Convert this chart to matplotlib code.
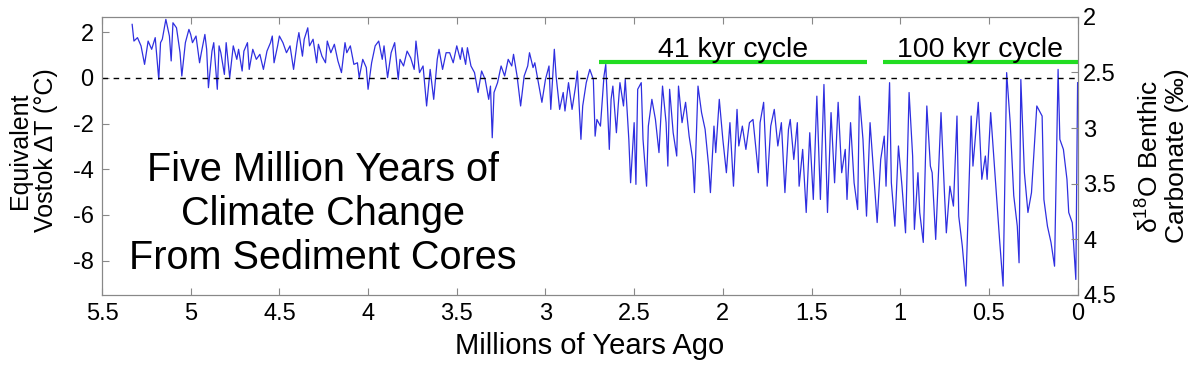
import numpy as np
import matplotlib.pyplot as plt

plt.rcParams['font.family'] = ['Liberation Sans', 'DejaVu Sans']
plt.rcParams['mathtext.fontset'] = 'custom'
plt.rcParams['mathtext.rm'] = 'Liberation Sans'
plt.rcParams['mathtext.it'] = 'Liberation Sans:italic'

# --- data (age in Myr, equivalent Vostok dT in degC) ---
age_pliocene_a = [5.33, 5.32, 5.30, 5.28, 5.26, 5.24, 5.22, 5.20, 5.18, 5.17,
                  5.16, 5.14, 5.12, 5.11, 5.10, 5.08, 5.06, 5.05, 5.03, 5.01,
                  5.00, 4.99, 4.97, 4.95, 4.94, 4.92, 4.91, 4.90, 4.88, 4.87,
                  4.85, 4.84, 4.83, 4.81, 4.80, 4.78, 4.76, 4.74, 4.73, 4.71,
                  4.70, 4.68, 4.67, 4.65, 4.63, 4.61, 4.59, 4.57, 4.55, 4.54,
                  4.53, 4.51, 4.50, 4.48, 4.46]
temp_pliocene_a = [2.34, 1.61, 1.76, 1.40, 0.59, 1.61, 1.25, 1.76, -0.07, 1.54,
                   1.69, 2.56, 1.83, 0.74, 2.41, 2.19, 1.10, 0.08, 1.54, 2.12,
                   1.90, 1.54, 1.83, 0.66, 1.10, 1.90, 1.25, -0.43, 1.17, 1.54,
                   -0.50, 1.40, 1.10, 0.15, 1.54, 0.01, 1.40, 0.81, 1.25, 0.30,
                   1.17, 1.54, 0.37, 1.25, 0.81, 1.03, 0.37, 1.17, 1.54, 1.83,
                   0.66, 1.40, 1.83, 1.54, 1.10]

age_pliocene_b = [4.44, 4.42, 4.40, 4.39, 4.37, 4.36, 4.34, 4.33, 4.31, 4.29,
                  4.28, 4.26, 4.24, 4.23, 4.21, 4.19, 4.17, 4.15, 4.13, 4.12,
                  4.10, 4.08, 4.06, 4.05, 4.03, 4.01, 4.00, 3.98, 3.96, 3.94,
                  3.92, 3.91, 3.89, 3.87, 3.85, 3.83, 3.82, 3.80, 3.78, 3.76,
                  3.74, 3.73, 3.71, 3.69, 3.67, 3.65, 3.63, 3.61, 3.60, 3.58,
                  3.56]
temp_pliocene_b = [1.40, 0.37, 1.54, 1.98, 0.95, 1.69, 2.19, 1.40, 1.69, 0.66,
                   1.47, 0.95, 0.66, 1.61, 1.10, 1.47, 0.74, 0.23, 1.54, 1.10,
                   1.40, 0.59, 0.66, 0.01, 0.81, 0.45, -0.50, 0.66, 1.40, 1.61,
                   0.81, 1.40, 0.01, 1.10, 1.54, -0.07, 0.81, 0.52, 1.17, 0.88,
                   0.37, 1.61, 0.23, 0.52, -1.23, 0.37, -0.94, 0.81, 1.25, 0.37,
                   1.10]

age_pliocene_c = [3.54, 3.52, 3.50, 3.48, 3.47, 3.45, 3.44, 3.42, 3.40, 3.38,
                  3.36, 3.34, 3.32, 3.31, 3.30, 3.29, 3.27, 3.25, 3.23, 3.21,
                  3.19, 3.18, 3.16, 3.14, 3.12, 3.10, 3.09, 3.07, 3.06, 3.03,
                  3.02, 3.00, 2.98, 2.97, 2.95, 2.94, 2.92, 2.90, 2.89, 2.87,
                  2.85, 2.83, 2.82, 2.80, 2.79, 2.77, 2.75]
temp_pliocene_c = [1.10, 0.66, 1.40, 0.81, 1.32, 0.59, 1.32, 0.52, 0.23, -0.64,
                   0.30, -0.07, -0.94, -0.36, -2.62, -0.64, -0.21, 0.52, 0.08, 0.81,
                   0.52, 1.03, 0.08, -1.23, 0.08, 0.52, 1.10, 0.45, 0.66, -0.64,
                   -1.07, -0.07, 0.52, -1.38, 1.25, 0.08, -1.38, -0.64, -1.45, -0.21,
                   -1.38, -0.36, 0.30, -2.69, -1.23, -0.21, 0.37]

age_41kyr = [2.73, 2.72, 2.71, 2.69, 2.67, 2.66, 2.64, 2.63, 2.62, 2.60,
             2.59, 2.58, 2.56, 2.55, 2.53, 2.52, 2.50, 2.49, 2.48, 2.46,
             2.45, 2.43, 2.42, 2.40, 2.38, 2.36, 2.34, 2.32, 2.31, 2.30,
             2.28, 2.26, 2.25, 2.23, 2.21, 2.19, 2.17, 2.16, 2.14, 2.12,
             2.10, 2.08, 2.07, 2.05, 2.04, 2.02, 2.00, 1.98, 1.96, 1.94,
             1.92, 1.91, 1.89, 1.87, 1.85, 1.83]
temp_41kyr = [-0.07, -2.55, -1.82, -2.11, 0.08, 0.59, -3.13, -0.94, -0.36, -2.40,
              -1.23, -0.21, -1.23, -0.07, -2.69, -4.59, -1.96, -4.66, -0.50, -0.21,
              -2.69, -4.74, -2.11, -0.94, -1.82, -3.27, -0.36, -1.96, -3.86, -0.50,
              -2.40, -3.42, -0.36, -1.96, -1.07, -2.55, -3.57, -5.02, -0.36, -1.52,
              -2.25, -3.86, -5.02, -2.11, -3.27, -0.94, -2.69, -4.15, -1.96, -4.74,
              -1.38, -2.98, -2.11, -3.13, -1.96, -1.82]

age_transition = [1.80, 1.79, 1.77, 1.75, 1.73, 1.71, 1.69, 1.67, 1.65, 1.63,
                  1.62, 1.60, 1.58, 1.57, 1.55, 1.53, 1.51, 1.49, 1.47, 1.45,
                  1.43, 1.41, 1.39, 1.37, 1.35, 1.33, 1.31, 1.30, 1.28, 1.26,
                  1.24, 1.23, 1.21, 1.19, 1.17, 1.15, 1.13, 1.11, 1.09, 1.08,
                  1.06, 1.05, 1.03, 1.01, 0.99, 0.97]
temp_transition = [-4.15, -1.96, -1.07, -4.74, -2.11, -1.38, -2.98, -1.96, -5.02, -2.25,
                   -1.82, -3.57, -1.96, -4.74, -3.13, -5.89, -2.40, -5.32, -0.80, -5.32,
                   -0.29, -5.89, -1.52, -4.59, -1.07, -4.15, -3.13, -5.32, -1.96, -4.59,
                   -5.76, -0.80, -2.69, -6.05, -1.96, -4.15, -6.33, -3.57, -2.55, -4.74,
                   -0.21, -4.59, -6.49, -2.98, -4.74, -6.78]

age_100kyr = [0.95, 0.93, 0.92, 0.90, 0.89, 0.87, 0.85, 0.83, 0.82, 0.80,
              0.77, 0.75, 0.74, 0.72, 0.70, 0.68, 0.67, 0.65, 0.63, 0.60,
              0.59, 0.56, 0.54, 0.52, 0.51, 0.49, 0.46, 0.44, 0.42, 0.40,
              0.38, 0.36, 0.34, 0.33, 0.32, 0.30, 0.28, 0.26, 0.23, 0.20,
              0.19, 0.17, 0.15, 0.13, 0.11, 0.10, 0.08, 0.06, 0.05, 0.03,
              0.01, 0.00]
temp_100kyr = [-0.64, -3.42, -6.63, -4.15, -5.89, -7.20, -1.23, -3.86, -4.15, -7.07,
               -1.52, -5.15, -6.78, -4.74, -5.61, -1.67, -6.05, -7.36, -9.11, -1.67,
               -3.86, -1.07, -4.44, -3.42, -4.44, -1.52, -4.88, -7.07, -9.11, 0.23,
               -1.96, -5.15, -6.49, -8.09, -0.07, -4.15, -5.89, -5.02, -1.23, -1.67,
               -5.32, -6.49, -7.20, -8.24, 0.37, -2.69, -3.13, -4.44, -5.89, -6.34,
               -8.82, -0.21]

x_ticks = [5.5, 5, 4.5, 4, 3.5, 3, 2.5, 2, 1.5, 1, 0.5, 0]
left_ticks = [2, 0, -2, -4, -6, -8]
right_ticks = [2, 2.5, 3, 3.5, 4, 4.5]
cycle_starts = [2.70, 1.095]
cycle_ends = [1.19, 0.0]
cycle_labels = ['41 kyr cycle', '100 kyr cycle']

age = np.concatenate([age_pliocene_a, age_pliocene_b, age_pliocene_c,
                      age_41kyr, age_transition, age_100kyr])
temp = np.concatenate([temp_pliocene_a, temp_pliocene_b, temp_pliocene_c,
                       temp_41kyr, temp_transition, temp_100kyr])

fig = plt.figure(figsize=(12, 3.66), dpi=100)
ax = fig.add_axes([0.085, 0.194, 0.813, 0.760])

ax.plot(age, temp, color='#2f2fe0', lw=0.9)
ax.axhline(0, color='black', lw=1, ls=(0, (4, 4)))

for start, end, label in zip(cycle_starts, cycle_ends, cycle_labels):
    ax.plot([start, end], [0.69, 0.69], color='#22dd22', lw=3, solid_capstyle='butt')
    ax.text((start + end) / 2, 0.93, label, ha='center', va='baseline', fontsize=20.5)

ax.text(4.255, -5.97, 'Five Million Years of\nClimate Change\nFrom Sediment Cores',
        ha='center', va='center', fontsize=28.5, linespacing=1.2)

ax.set_xlim(5.5, 0)
ax.set_ylim(-9.5, 2.67)
ax.set_xticks(x_ticks)
ax.set_xticklabels(['%g' % t for t in x_ticks])
ax.set_yticks(left_ticks)
ax.set_yticklabels(['%g' % t for t in left_ticks])
ax.tick_params(axis='both', direction='in', length=5, width=0.8, color='#888888',
               labelsize=17, top=True, pad=6)
ax.set_xlabel('Millions of Years Ago', fontsize=21, labelpad=5)
ax.set_ylabel('Equivalent\nVostok \u0394T (\u00b0C)', fontsize=18, linespacing=1.1)
ax.yaxis.set_label_coords(-0.045, 0.52)
for s in ax.spines.values():
    s.set_color('#888888')

ax2 = ax.twinx()
ax2.set_ylim(4.5, 2)
ax2.set_yticks(right_ticks)
ax2.set_yticklabels(['%g' % t for t in right_ticks])
ax2.tick_params(axis='y', direction='in', length=5, width=0.8, color='#888888',
                labelsize=17, pad=4)
ax2.set_ylabel('\u03b4$^{\\mathrm{18}}$O Benthic\nCarbonate (\u2030)', fontsize=19,
               linespacing=1.1)
ax2.yaxis.set_label_coords(1.06, 0.5)
for s in ax2.spines.values():
    s.set_color('#888888')

fig.savefig('out.png', dpi=100)
